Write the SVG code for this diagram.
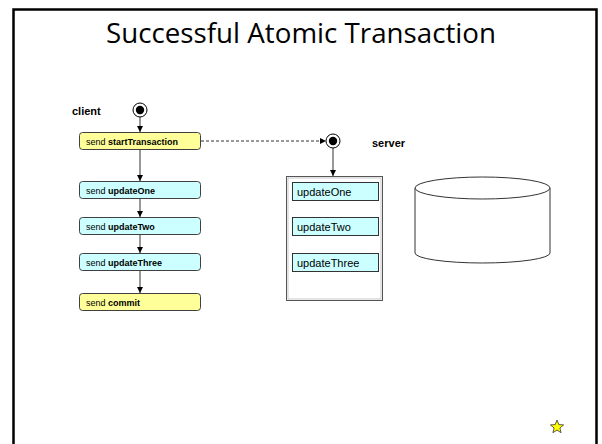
<svg xmlns="http://www.w3.org/2000/svg" width="602" height="444" viewBox="0 0 602 444">
<style>
.act{stroke:#404040;stroke-width:1;}
.y{fill:#FFFF99;}
.c{fill:#CCFFFF;}
.t{font-family:"Liberation Sans",Arial,sans-serif;font-size:9px;fill:#000;}
.b{font-weight:bold;}
.lbl{font-family:"Liberation Sans",Arial,sans-serif;font-size:11px;font-weight:bold;fill:#000;}
.st{font-family:"Liberation Sans",Arial,sans-serif;font-size:11px;fill:#000;}
.ln{stroke:#333;stroke-width:1;fill:none;}
</style>
<defs>
<marker id="ah" viewBox="0 0 6 6" refX="6" refY="3" markerWidth="6" markerHeight="6" orient="auto" markerUnits="userSpaceOnUse">
<path d="M0,0 L6,3 L0,6 z" fill="#000"/>
</marker>
</defs>
<rect width="602" height="444" fill="#fff"/>
<path d="M13.5,446 V9.5 H596.5 V446" fill="none" stroke="#000" stroke-width="2.5"/>
<text x="301" y="43" text-anchor="middle" font-family="'Open Sans','Liberation Sans',sans-serif" font-size="27" fill="#000" textLength="390" lengthAdjust="spacingAndGlyphs">Successful Atomic Transaction</text>

<g id="connectors">
<line class="ln" x1="140" y1="117" x2="140" y2="132" marker-end="url(#ah)"/>
<line class="ln" x1="140" y1="150" x2="140" y2="181" marker-end="url(#ah)"/>
<line class="ln" x1="140" y1="199" x2="140" y2="217" marker-end="url(#ah)"/>
<line class="ln" x1="140" y1="235" x2="140" y2="253" marker-end="url(#ah)"/>
<line class="ln" x1="140" y1="271" x2="140" y2="293" marker-end="url(#ah)"/>
<line class="ln" x1="201" y1="141" x2="326" y2="141" stroke-dasharray="3,2" marker-end="url(#ah)"/>
<line class="ln" x1="333" y1="148" x2="333" y2="176" marker-end="url(#ah)"/>
</g>

<g id="client-label"><text class="lbl" x="72" y="115">client</text></g>
<g id="client-start">
<circle cx="140" cy="110" r="7" fill="#fff" stroke="#000" stroke-width="1"/>
<circle cx="140" cy="110" r="4.2" fill="#000"/>
</g>
<g id="send-startTransaction">
<rect class="act y" x="79.5" y="132.5" width="121" height="17" rx="3"/>
<text class="t" x="86" y="144.5">send <tspan class="b">startTransaction</tspan></text>
</g>
<g id="send-updateOne">
<rect class="act c" x="79.5" y="181.5" width="121" height="17" rx="3"/>
<text class="t" x="86" y="193.5">send <tspan class="b">updateOne</tspan></text>
</g>
<g id="send-updateTwo">
<rect class="act c" x="79.5" y="217.5" width="121" height="17" rx="3"/>
<text class="t" x="86" y="229.5">send <tspan class="b">updateTwo</tspan></text>
</g>
<g id="send-updateThree">
<rect class="act c" x="79.5" y="253.5" width="121" height="17" rx="3"/>
<text class="t" x="86" y="265.5">send <tspan class="b">updateThree</tspan></text>
</g>
<g id="send-commit">
<rect class="act y" x="79.5" y="293.5" width="121" height="17" rx="3"/>
<text class="t" x="86" y="305.5">send <tspan class="b">commit</tspan></text>
</g>

<g id="server-label"><text class="lbl" x="372" y="147">server</text></g>
<g id="server-start">
<circle cx="333" cy="141" r="7" fill="#fff" stroke="#000" stroke-width="1"/>
<circle cx="333" cy="141" r="4.2" fill="#000"/>
</g>
<g id="server-box">
<rect x="286.5" y="176.5" width="96" height="124" fill="#fff" stroke="#555" stroke-width="1"/>
<rect x="288" y="178" width="93" height="121" fill="none" stroke="#bbb" stroke-width="0.8"/>
</g>
<g id="server-updateOne">
<rect x="292.5" y="182.5" width="86" height="18" fill="#CCFFFF" stroke="#333" stroke-width="1"/>
<text class="st" x="297" y="195.5">updateOne</text>
</g>
<g id="server-updateTwo">
<rect x="292.5" y="217.5" width="86" height="18" fill="#CCFFFF" stroke="#333" stroke-width="1"/>
<text class="st" x="297" y="230.5">updateTwo</text>
</g>
<g id="server-updateThree">
<rect x="292.5" y="253.5" width="86" height="18" fill="#CCFFFF" stroke="#333" stroke-width="1"/>
<text class="st" x="297" y="266.5">updateThree</text>
</g>

<g id="database">
<path d="M415,188 V253 A67.5,10 0 0 0 550,253 V188" fill="#fff" stroke="#333" stroke-width="1"/>
<ellipse cx="482.5" cy="188" rx="67.5" ry="11" fill="#fff" stroke="#333" stroke-width="1"/>
</g>

<g id="star">
<polygon points="557,420 558.8,424.6 563.6,424.9 559.9,428 561.1,432.7 557,430.1 552.9,432.7 554.1,428 550.4,424.9 555.2,424.6" fill="#FFFF00" stroke="#333" stroke-width="0.8"/>
</g>
</svg>
